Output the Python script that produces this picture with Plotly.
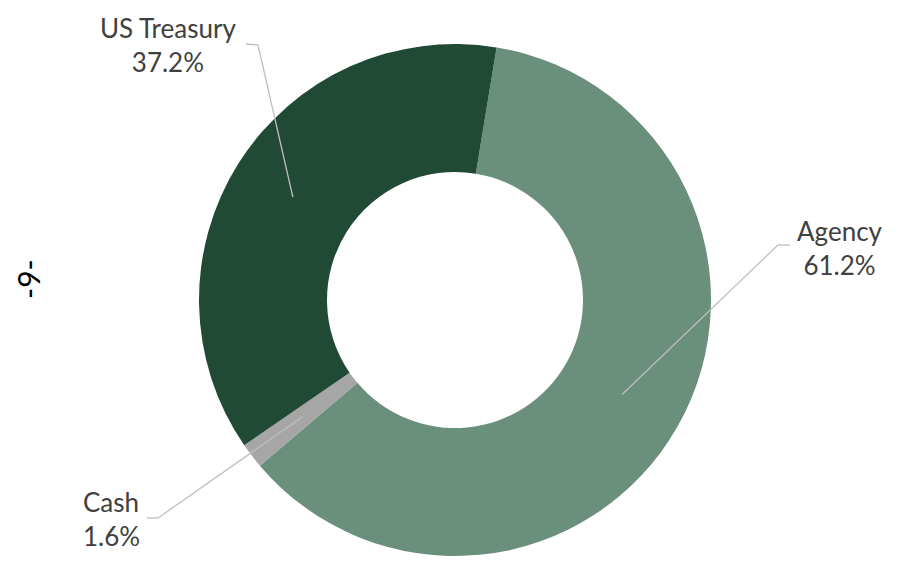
import math
import plotly.graph_objects as go

# Portfolio composition
categories = ["Agency", "Cash", "US Treasury"]
shares = [61.2, 1.6, 37.2]
colors = ["#6A8F7C", "#A6A6A6", "#214A36"]

W, H = 898, 565
cx, cy, R = 455, 300, 256          # donut centre / outer radius in pixels
hole = 0.5
start_deg = 9.35                   # clockwise from 12 o'clock

# label anchor (elbow) positions in pixels and text placement
label_layout = {
    "Agency":      dict(elbow=(778, 245), end=(790, 245), text=(840, 248), anchor="center"),
    "Cash":        dict(elbow=(158, 518), end=(147, 518), text=(81, 519), anchor="left"),
    "US Treasury": dict(elbow=(258, 45),  end=(246, 44),  text=(168, 45), anchor="center"),
}

def px(x):
    return x / W

def py(y):
    return 1 - y / H

fig = go.Figure(go.Pie(
    labels=categories,
    values=shares,
    marker=dict(colors=colors, line=dict(width=0)),
    hole=hole,
    sort=False,
    direction="clockwise",
    rotation=start_deg,
    textinfo="none",
    hoverinfo="label+percent",
    showlegend=False,
    domain=dict(x=[px(cx - R), px(cx + R)], y=[py(cy + R), py(cy - R)]),
))

shapes = []
annotations = []
total = sum(shares)
acc = 0.0
for name, val in zip(categories, shares):
    mid = start_deg + (acc + val / 2) / total * 360
    acc += val
    a = math.radians(mid)
    r_in = R * (1 + hole) / 2
    x0 = cx + r_in * math.sin(a)
    y0 = cy - r_in * math.cos(a)
    lay = label_layout[name]
    ex, ey = lay["elbow"]
    tx, ty = lay["end"]
    shapes.append(dict(type="line", xref="paper", yref="paper",
                       x0=px(x0), y0=py(y0), x1=px(ex), y1=py(ey),
                       line=dict(color="#BFBFBF", width=1.3)))
    shapes.append(dict(type="line", xref="paper", yref="paper",
                       x0=px(ex), y0=py(ey), x1=px(tx), y1=py(ty),
                       line=dict(color="#BFBFBF", width=1.3)))
    lx, ly = lay["text"]
    annotations.append(dict(
        x=px(lx), y=py(ly), xref="paper", yref="paper",
        text=f"{name}<br>{val:.1f}%", showarrow=False,
        xanchor=lay["anchor"], yanchor="middle",
        align="center" if lay["anchor"] == "center" else "left",
        font=dict(family="Lato, Carlito, sans-serif", size=26, color="#404040"),
    ))

# page number
annotations.append(dict(
    x=px(28), y=py(279), xref="paper", yref="paper",
    text="-9-", showarrow=False, textangle=-90,
    xanchor="center", yanchor="middle",
    font=dict(family="Lato, sans-serif", size=30, color="#000000"),
))

fig.update_layout(
    width=W, height=H,
    margin=dict(l=0, r=0, t=0, b=0),
    paper_bgcolor="white",
    plot_bgcolor="white",
    shapes=shapes,
    annotations=annotations,
)

fig.write_html("out.html")
